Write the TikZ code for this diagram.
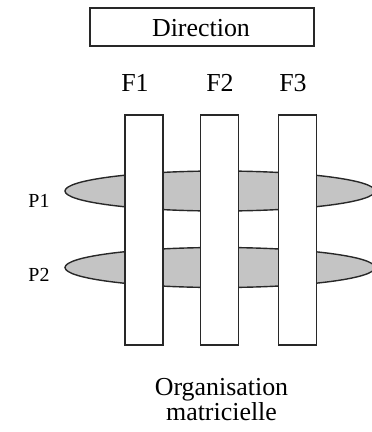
\documentclass[tikz,border=0pt]{standalone}
\usepackage{fontspec}
\setmainfont{Liberation Serif}
\usetikzlibrary{shapes.geometric}
\definecolor{inkline}{RGB}{40,40,40}
\definecolor{bandfill}{RGB}{196,196,196}
\tikzset{
  x=1bp, y=-1bp,
  outline/.style={draw=inkline, line width=1.4bp},
  band/.style={outline, fill=bandfill, ellipse, inner sep=0pt,
               minimum width=310bp, minimum height=40bp},
  column/.style={outline, fill=white, rectangle, inner sep=0pt,
                 minimum width=38bp, minimum height=230bp},
  title/.style={outline, rectangle, inner sep=0pt,
                minimum width=224bp, minimum height=38bp},
  biglabel/.style={font=\fontsize{26}{26}\selectfont, inner sep=0pt, anchor=base},
  smalllabel/.style={font=\fontsize{20}{20}\selectfont, inner sep=0pt, anchor=base},
}
\begin{document}
\begin{tikzpicture}
\useasboundingbox (0,0) rectangle (372,432);
% Direction box
\node[title] (dir) at (202,27) {};
\node[biglabel] (dirtxt) at (201,36) {Direction};
% function labels
\node[biglabel] (f1) at (135,91.5) {F1};
\node[biglabel] (f2) at (220,91.5) {F2};
\node[biglabel] (f3) at (293,91.5) {F3};
% project bands
\node[band] (p1band) at (220,191) {};
\node[band] (p2band) at (220,267.5) {};
\node[smalllabel] (p1) at (39,207) {P1};
\node[smalllabel] (p2) at (39,281.5) {P2};
% function columns on top of the bands
\node[column] (c1) at (144,230) {};
\node[column] (c2) at (219.5,230) {};
\node[column] (c3) at (297.5,230) {};
% caption (two lines, base anchor sits on the last line)
\node[font=\fontsize{26}{21.5}\selectfont, align=center, inner sep=0pt, anchor=base]
  (cap) at (221.5,420) {Organisation\\matricielle};
\end{tikzpicture}
\end{document}
